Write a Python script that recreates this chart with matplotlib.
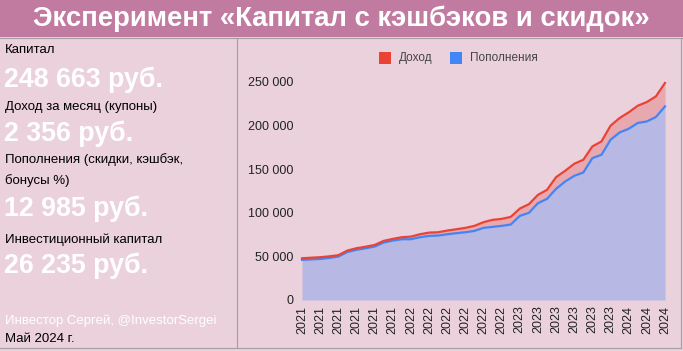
import numpy as np
import matplotlib
matplotlib.use('Agg')
import matplotlib.pyplot as plt
from matplotlib.patches import Rectangle
from matplotlib.lines import Line2D

plt.rcParams['font.family'] = ['Liberation Sans', 'DejaVu Sans']

# помесячно, январь 2021 - май 2024
kapital = [47800, 48400, 49000, 50000, 51300, 56600, 59300, 61000, 63000, 67700,
           70000, 71900, 72600, 75300, 77200, 77600, 79500, 81000, 82600, 84900,
           89100, 91800, 92900, 95200, 104700, 109700, 120400, 126200, 140700, 148000,
           156000, 160600, 175900, 181600, 199600, 208400, 214900, 222500, 226700, 233200,
           248500]
popolneniya = [45900, 46500, 47000, 48200, 49700, 55000, 57400, 59200, 61200, 65800,
               68000, 69600, 69600, 71900, 73400, 73800, 75300, 76500, 77600, 79100,
               82600, 83700, 84900, 86400, 96300, 99800, 110900, 115800, 127300, 135700,
               142200, 146000, 162500, 166300, 183500, 191900, 196100, 202700, 204500, 209600,
               221700]
years = ['2021'] * 6 + ['2022'] * 6 + ['2023'] * 6 + ['2024'] * 3

W, H = 683, 351
fig = plt.figure(figsize=(W / 100, H / 100), dpi=100)
fig.patch.set_facecolor('#EAD1DC')

def fy(y):
    return 1 - y / H

# шапка
fig.patches.append(Rectangle((0, fy(37)), 1, 37 / H, transform=fig.transFigure,
                             facecolor='#C27BA0', edgecolor='none', zorder=0))
fig.text(0.5, fy(19), 'Эксперимент «Капитал с кэшбэков и скидок»', color='white',
         fontsize=19.8, fontweight='bold', ha='center', va='center')
fig.lines.append(Line2D([0, 1], [fy(37.5), fy(37.5)], transform=fig.transFigure, color='#A0A0A0', lw=0.8))
fig.lines.append(Line2D([237 / W, 237 / W], [fy(37.5), fy(348)], transform=fig.transFigure, color='#A0A0A0', lw=0.8))
fig.lines.append(Line2D([0, 681 / W], [fy(348), fy(348)], transform=fig.transFigure, color='#A0A0A0', lw=0.8))
fig.lines.append(Line2D([681 / W, 681 / W], [fy(37.5), fy(348)], transform=fig.transFigure, color='#A0A0A0', lw=0.8))

# левая панель
small = [('Капитал', 50, 'black'), ('Доход за месяц (купоны)', 107, 'black'),
         ('Пополнения (скидки, кэшбэк,', 160, 'black'), ('бонусы %)', 181, 'black'),
         ('Инвестиционный капитал', 240, 'black'),
         ('Инвестор Сергей, @InvestorSergei', 321, 'white'), ('Май 2024 г.', 339, 'black')]
for txt, y, c in small:
    fig.text(5 / W, fy(y), txt, color=c, fontsize=9.5, ha='left', va='center')
big = [('248 663 руб.', 80), ('2 356 руб.', 134), ('12 985 руб.', 209), ('26 235 руб.', 266)]
for txt, y in big:
    fig.text(4 / W, fy(y), txt, color='white', fontsize=19.3, fontweight='bold', ha='left', va='center')

# график
ax = fig.add_axes([302 / W, fy(300), (665 - 302) / W, (300 - 81.7) / H])
ax.set_facecolor('none')
x = np.arange(len(kapital))
ax.fill_between(x, 0, popolneniya, color='#B7B9E4', lw=0, zorder=1)
ax.fill_between(x, popolneniya, kapital, color='#E8A8B0', lw=0, zorder=1)
ax.plot(x, popolneniya, color='#4285F4', lw=1.6, zorder=3, clip_on=False)
ax.plot(x, kapital, color='#EA4335', lw=1.6, zorder=4, clip_on=False)
ax.set_xlim(0, len(kapital) - 1)
ax.set_ylim(0, 250000)
ax.set_yticks(range(0, 250001, 50000))
ax.set_yticklabels(['0', '50 000', '100 000', '150 000', '200 000', '250 000'])
ax.set_xticks(x[::2])
ax.set_xticklabels(years, rotation=90)
ax.tick_params(length=0, labelsize=9, colors='#222222')
ax.tick_params(axis='y', pad=6)
ax.tick_params(axis='x', pad=4)
for s in ax.spines.values():
    s.set_visible(False)

# легенда
fig.patches.append(Rectangle((379 / W, fy(64)), 12 / W, 12 / H, transform=fig.transFigure,
                             facecolor='#EA4335', edgecolor='none'))
fig.text(399 / W, fy(58), 'Доход', fontsize=8.5, color='#444444', ha='left', va='center')
fig.patches.append(Rectangle((450 / W, fy(64)), 12 / W, 12 / H, transform=fig.transFigure,
                             facecolor='#4285F4', edgecolor='none'))
fig.text(470 / W, fy(58), 'Пополнения', fontsize=8.5, color='#444444', ha='left', va='center')

fig.savefig('out.png', dpi=100, facecolor=fig.get_facecolor())
